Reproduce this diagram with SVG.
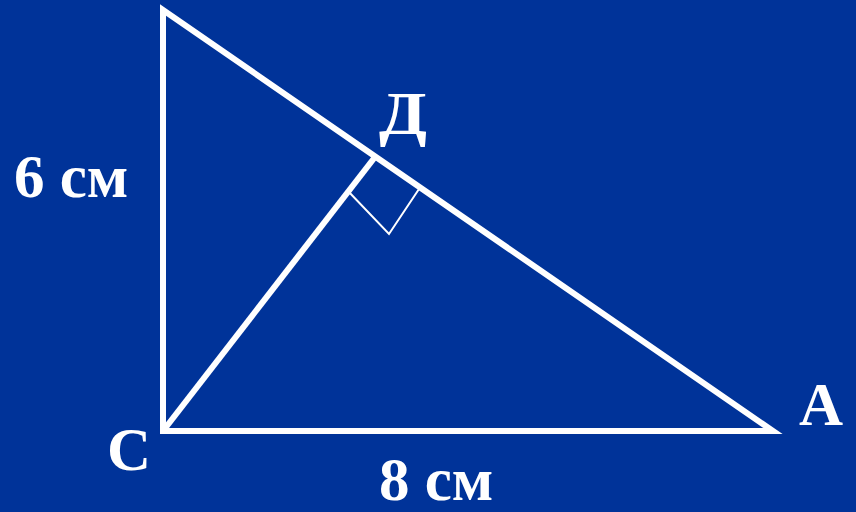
<svg xmlns="http://www.w3.org/2000/svg" width="856" height="512" viewBox="0 0 856 512">
<style>
.edge{stroke:#fff;stroke-width:6;fill:none}
.thin{stroke:#fff;stroke-width:2;fill:none}
text{font-family:"Liberation Serif","Times New Roman",serif;font-weight:bold;fill:#fff;font-size:61px}
</style>
<rect width="856" height="512" fill="#003399"/>
<g id="connectors">
<polygon class="edge" points="163,10 163,431 773,431" stroke-linejoin="miter"/>
<line class="edge" x1="163" y1="431" x2="375" y2="157"/>
<polyline class="thin" points="347,190 389,234 419,189"/>
</g>
<g id="node-D"><text x="379" y="134" style="font-size:62px" textLength="48" lengthAdjust="spacingAndGlyphs">Д</text></g>
<g id="node-C"><text x="107" y="470">C</text></g>
<g id="node-A"><text x="799" y="425">A</text></g>
<g id="label-6"><text x="14" y="197">6 см</text></g>
<g id="label-8"><text x="379" y="500">8 см</text></g>
</svg>
